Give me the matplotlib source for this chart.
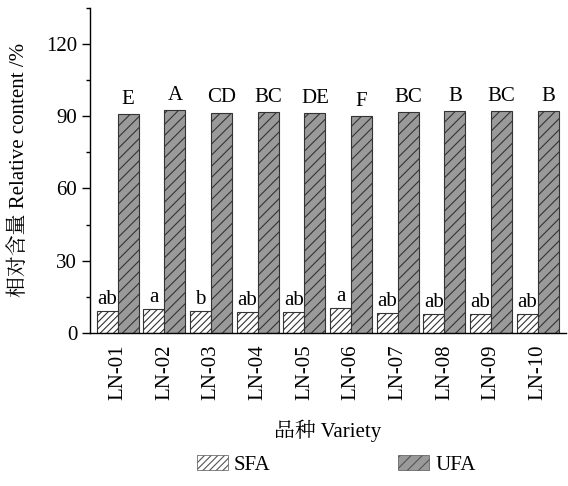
import matplotlib
matplotlib.use("Agg")
import matplotlib.pyplot as plt
import numpy as np
from matplotlib.patches import Patch

plt.rcParams['font.family'] = ['Liberation Serif', 'Noto Serif CJK SC', 'Noto Sans CJK SC', 'DejaVu Sans']
plt.rcParams['hatch.linewidth'] = 0.8

varieties = ["LN-01", "LN-02", "LN-03", "LN-04", "LN-05", "LN-06", "LN-07", "LN-08", "LN-09", "LN-10"]
sfa = [9.3, 10.0, 9.3, 8.8, 8.8, 10.5, 8.3, 7.9, 7.9, 7.9]
ufa = [90.8, 92.5, 91.5, 91.8, 91.3, 89.9, 91.8, 92.0, 92.0, 92.0]
sfa_letters = ["ab", "a", "b", "ab", "ab", "a", "ab", "ab", "ab", "ab"]
ufa_letters = ["E", "A", "CD", "BC", "DE", "F", "BC", "B", "BC", "B"]

fig = plt.figure(figsize=(5.68, 4.86), dpi=100)
ax = fig.add_axes([0.158, 0.315, 0.838, 0.669])

x = np.arange(1, len(varieties) + 1)
w = 0.45
ax.bar(x - w / 2, sfa, w, color="white", edgecolor="#333333", hatch="/////", linewidth=0.8)
ax.bar(x + w / 2, ufa, w, color="#9a9a9a", edgecolor="#333333", hatch="///", linewidth=0.8)

for xi, v, t in zip(x, sfa, sfa_letters):
    ax.text(xi - w / 2, v + 0.6, t, ha="center", va="bottom", fontsize=15)
for xi, v, t in zip(x, ufa, ufa_letters):
    ax.text(xi + w / 2, v + 2.2, t, ha="center", va="bottom", fontsize=15)

ax.set_xlim(0.4, 10.6)
ax.set_ylim(0, 135)
ax.set_yticks([0, 30, 60, 90, 120])
ax.set_yticks([15, 45, 75, 105, 135], minor=True)
ax.set_xticks(x)
ax.set_xticklabels(varieties, rotation=90, fontsize=15)
ax.tick_params(axis="y", labelsize=15, direction="out", length=6, width=1, pad=3)
ax.tick_params(axis="y", which="minor", length=3, width=1)
ax.tick_params(axis="x", length=0, pad=8)
for s in ["top", "right"]:
    ax.spines[s].set_visible(False)
ax.spines["left"].set_linewidth(1)
ax.spines["bottom"].set_linewidth(1)

ax.set_ylabel("相对含量 Relative content /%", fontsize=15, labelpad=12)
ax.set_xlabel("品种 Variety", fontsize=15, labelpad=14)

handles = [Patch(facecolor="white", edgecolor="#555555", hatch="/////", linewidth=0.5),
           Patch(facecolor="#9a9a9a", edgecolor="#555555", hatch="///", linewidth=0.5)]
fig.legend(handles, ["SFA", "UFA"], loc="center", bbox_to_anchor=(0.592, 0.043), ncol=2,
           frameon=False, fontsize=15, columnspacing=6.1, handlelength=1.5, handletextpad=0.3)

fig.savefig("out.png", dpi=100)
